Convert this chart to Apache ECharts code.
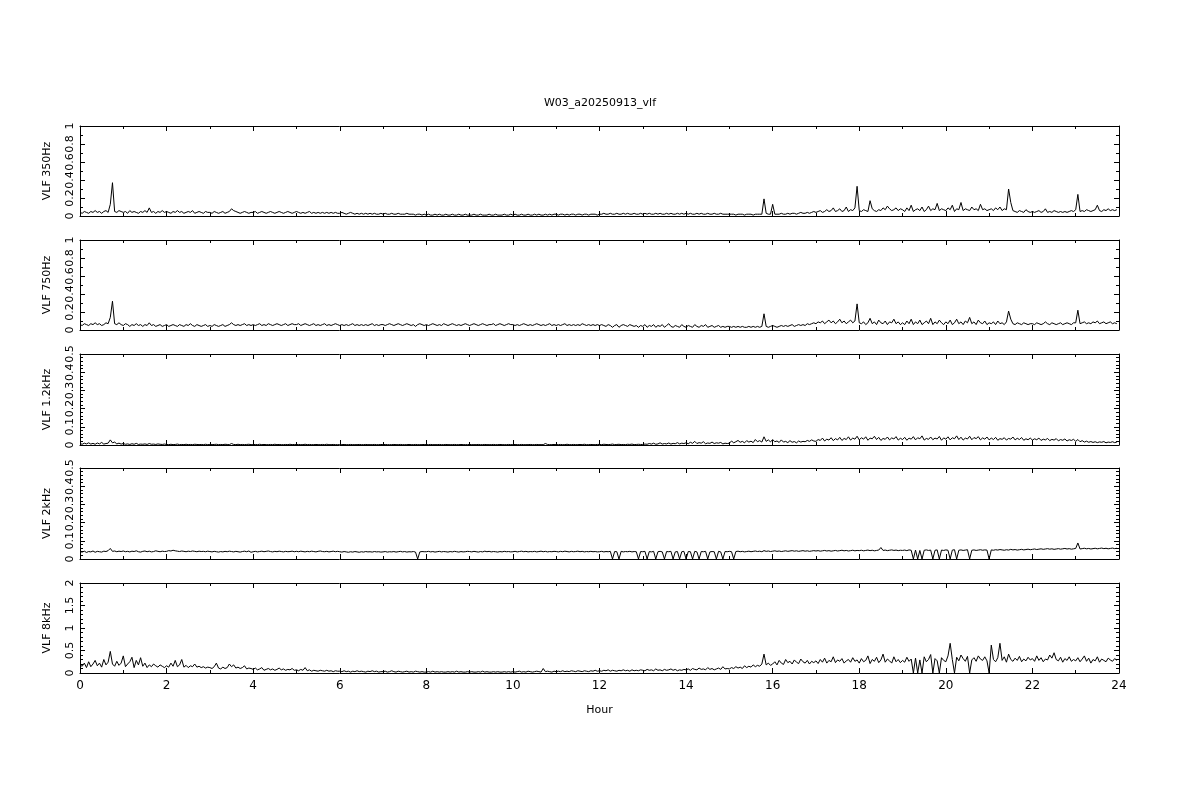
<!DOCTYPE html>
<html><head><meta charset="utf-8">
<script src="https://cdn.jsdelivr.net/npm/echarts@6/dist/echarts.min.js"></script>
<style>html,body{margin:0;padding:0;background:#fff}#c{width:1200px;height:800px}</style>
</head><body><div id="c"></div>
<script>
const TITLE = 'W03_a20250913_vlf';
const PANEL_NAMES = ['VLF 350Hz', 'VLF 750Hz', 'VLF 1.2kHz', 'VLF 2kHz', 'VLF 8kHz'];
const X_NAME = 'Hour';
const X_MIN = 0, X_MAX = 24, X_STEP = 2;
const Y_MAX = [1, 1, 0.5, 0.5, 2];
const Y_STEP = [0.2, 0.2, 0.1, 0.1, 0.5];
const Y_MINOR = [2, 2, 5, 5, 5];
const SAMPLE_HOURS = 0.05; // one sample every 3 minutes

const vlf350 = [
0.04,0.03,0.05,0.04,0.03,0.05,0.04,0.06,0.04,0.05,0.03,0.05,0.06,0.04,0.13,0.37,0.05,0.04,0.06,0.05,
0.04,0.05,0.03,0.06,0.04,0.05,0.04,0.03,0.05,0.04,0.06,0.04,0.09,0.04,0.05,0.03,0.05,0.04,0.06,0.04,
0.05,0.04,0.03,0.05,0.04,0.06,0.04,0.05,0.03,0.04,0.05,0.04,0.06,0.03,0.04,0.05,0.04,0.03,0.05,0.04,
0.04,0.03,0.05,0.04,0.03,0.04,0.05,0.03,0.04,0.05,0.08,0.06,0.05,0.04,0.03,0.04,0.05,0.04,0.03,0.04,
0.04,0.05,0.03,0.04,0.05,0.04,0.03,0.04,0.05,0.04,0.03,0.04,0.05,0.04,0.03,0.04,0.05,0.04,0.03,0.04,
0.05,0.04,0.03,0.04,0.03,0.04,0.05,0.03,0.04,0.03,0.04,0.03,0.04,0.03,0.04,0.03,0.04,0.03,0.04,0.03,
0.03,0.04,0.03,0.02,0.03,0.04,0.03,0.02,0.03,0.02,0.03,0.02,0.03,0.02,0.03,0.02,0.03,0.02,0.02,0.03,
0.02,0.03,0.02,0.02,0.03,0.02,0.02,0.03,0.02,0.02,0.02,0.03,0.02,0.02,0.02,0.01,0.02,0.02,0.01,0.02,
0.01,0.02,0.01,0.01,0.02,0.01,0.02,0.01,0.01,0.02,0.01,0.01,0.02,0.01,0.01,0.02,0.01,0.01,0.02,0.01,
0.01,0.01,0.02,0.01,0.01,0.02,0.01,0.01,0.01,0.02,0.01,0.01,0.02,0.01,0.01,0.01,0.02,0.01,0.01,0.02,
0.01,0.02,0.01,0.01,0.02,0.01,0.01,0.02,0.01,0.01,0.02,0.01,0.02,0.01,0.01,0.02,0.01,0.02,0.01,0.02,
0.02,0.01,0.02,0.02,0.01,0.02,0.01,0.02,0.02,0.01,0.02,0.02,0.01,0.02,0.02,0.01,0.02,0.02,0.02,0.01,
0.02,0.02,0.03,0.02,0.02,0.03,0.02,0.02,0.03,0.02,0.02,0.03,0.02,0.03,0.02,0.02,0.03,0.02,0.02,0.03,
0.02,0.03,0.02,0.03,0.02,0.02,0.03,0.02,0.03,0.02,0.02,0.03,0.02,0.03,0.02,0.02,0.03,0.02,0.03,0.02,
0.03,0.02,0.03,0.02,0.02,0.03,0.02,0.03,0.02,0.02,0.03,0.02,0.02,0.03,0.02,0.02,0.03,0.02,0.02,0.02,
0.02,0.02,0.02,0.01,0.02,0.02,0.02,0.01,0.02,0.02,0.02,0.01,0.02,0.02,0.02,0.02,0.19,0.03,0.02,0.02,
0.13,0.02,0.02,0.02,0.03,0.02,0.02,0.03,0.02,0.03,0.03,0.02,0.03,0.04,0.03,0.03,0.04,0.03,0.04,0.05,
0.04,0.05,0.06,0.04,0.05,0.07,0.05,0.06,0.09,0.05,0.06,0.08,0.05,0.06,0.10,0.05,0.07,0.06,0.09,0.33,
0.06,0.05,0.07,0.06,0.05,0.17,0.08,0.06,0.05,0.07,0.06,0.09,0.07,0.11,0.08,0.06,0.07,0.09,0.06,0.08,
0.07,0.05,0.09,0.06,0.12,0.05,0.07,0.08,0.06,0.10,0.05,0.07,0.11,0.06,0.08,0.07,0.14,0.06,0.08,0.07,
0.06,0.09,0.07,0.12,0.05,0.08,0.07,0.15,0.06,0.08,0.07,0.06,0.10,0.07,0.08,0.06,0.13,0.07,0.08,0.06,
0.07,0.08,0.06,0.09,0.07,0.10,0.06,0.08,0.07,0.30,0.15,0.06,0.05,0.04,0.06,0.05,0.04,0.07,0.05,0.04,
0.05,0.04,0.05,0.06,0.04,0.05,0.08,0.04,0.05,0.04,0.06,0.05,0.04,0.05,0.04,0.05,0.04,0.05,0.06,0.05,
0.07,0.24,0.05,0.06,0.05,0.07,0.06,0.05,0.06,0.07,0.12,0.06,0.05,0.07,0.06,0.08,0.06,0.07,0.06,0.07
];

const vlf750 = [
0.06,0.05,0.07,0.06,0.05,0.07,0.06,0.08,0.06,0.07,0.05,0.06,0.08,0.07,0.14,0.32,0.07,0.06,0.08,0.06,
0.05,0.07,0.06,0.04,0.06,0.05,0.07,0.05,0.06,0.04,0.06,0.05,0.08,0.05,0.06,0.04,0.05,0.06,0.04,0.05,
0.06,0.04,0.05,0.06,0.05,0.04,0.06,0.05,0.04,0.06,0.05,0.07,0.05,0.04,0.06,0.05,0.04,0.05,0.06,0.04,
0.05,0.04,0.06,0.05,0.04,0.05,0.06,0.04,0.05,0.06,0.08,0.06,0.05,0.06,0.05,0.06,0.07,0.05,0.06,0.05,
0.06,0.05,0.06,0.07,0.05,0.06,0.05,0.07,0.06,0.05,0.06,0.07,0.06,0.05,0.06,0.07,0.05,0.06,0.07,0.06,
0.06,0.07,0.05,0.06,0.07,0.06,0.05,0.06,0.07,0.05,0.06,0.05,0.06,0.07,0.05,0.06,0.05,0.06,0.07,0.06,
0.05,0.06,0.05,0.06,0.05,0.06,0.07,0.05,0.06,0.05,0.06,0.05,0.06,0.05,0.06,0.07,0.05,0.06,0.05,0.06,
0.06,0.05,0.06,0.07,0.06,0.05,0.06,0.07,0.06,0.05,0.06,0.07,0.06,0.05,0.06,0.04,0.06,0.07,0.06,0.05,
0.06,0.05,0.06,0.07,0.06,0.05,0.06,0.05,0.07,0.06,0.05,0.06,0.07,0.06,0.05,0.06,0.05,0.06,0.07,0.06,
0.05,0.06,0.07,0.06,0.05,0.06,0.07,0.06,0.05,0.06,0.06,0.07,0.05,0.06,0.07,0.06,0.05,0.06,0.07,0.06,
0.06,0.05,0.06,0.05,0.06,0.07,0.06,0.05,0.06,0.05,0.06,0.07,0.06,0.05,0.06,0.05,0.06,0.07,0.05,0.06,
0.05,0.06,0.05,0.06,0.07,0.05,0.06,0.05,0.06,0.05,0.06,0.05,0.07,0.06,0.05,0.06,0.05,0.06,0.05,0.06,
0.05,0.06,0.05,0.04,0.06,0.05,0.03,0.05,0.06,0.03,0.05,0.06,0.05,0.04,0.06,0.05,0.04,0.05,0.03,0.05,
0.04,0.06,0.03,0.05,0.04,0.06,0.03,0.05,0.04,0.06,0.03,0.05,0.07,0.04,0.03,0.05,0.04,0.03,0.06,0.04,
0.03,0.05,0.04,0.03,0.06,0.04,0.03,0.05,0.04,0.06,0.03,0.04,0.05,0.03,0.04,0.05,0.03,0.04,0.03,0.04,
0.04,0.03,0.04,0.03,0.04,0.03,0.04,0.03,0.03,0.04,0.03,0.04,0.03,0.04,0.03,0.04,0.18,0.04,0.03,0.04,
0.05,0.04,0.03,0.04,0.05,0.04,0.05,0.04,0.05,0.06,0.04,0.05,0.06,0.05,0.06,0.05,0.07,0.06,0.07,0.08,
0.07,0.09,0.08,0.10,0.07,0.09,0.11,0.08,0.10,0.07,0.09,0.12,0.08,0.10,0.07,0.09,0.11,0.08,0.10,0.29,
0.08,0.07,0.09,0.06,0.08,0.13,0.07,0.09,0.06,0.11,0.08,0.07,0.10,0.06,0.09,0.08,0.12,0.07,0.09,0.06,
0.08,0.06,0.10,0.07,0.12,0.06,0.09,0.07,0.11,0.06,0.08,0.10,0.07,0.13,0.06,0.09,0.07,0.11,0.08,0.06,
0.09,0.07,0.11,0.06,0.08,0.12,0.07,0.09,0.06,0.10,0.08,0.14,0.07,0.09,0.06,0.11,0.08,0.07,0.10,0.06,
0.08,0.07,0.09,0.06,0.10,0.07,0.08,0.06,0.09,0.21,0.12,0.07,0.06,0.08,0.07,0.06,0.08,0.07,0.06,0.07,
0.07,0.06,0.08,0.07,0.06,0.07,0.09,0.07,0.06,0.08,0.07,0.06,0.07,0.08,0.06,0.07,0.08,0.07,0.06,0.08,
0.08,0.22,0.07,0.08,0.09,0.07,0.08,0.07,0.09,0.08,0.10,0.07,0.08,0.09,0.07,0.08,0.09,0.07,0.08,0.07
];

const vlf1200 = [
0.008,0.004,0.010,0.006,0.012,0.005,0.009,0.004,0.011,0.006,0.014,0.005,0.008,0.010,0.028,0.012,0.016,0.006,0.010,0.005,
0.008,0.004,0.006,0.003,0.007,0.004,0.009,0.003,0.005,0.004,0.006,0.003,0.008,0.004,0.005,0.003,0.006,0.004,0.003,0.005,
0.003,0.002,0.004,0.002,0.003,0.005,0.002,0.003,0.002,0.004,0.002,0.003,0.002,0.004,0.003,0.002,0.003,0.002,0.004,0.002,
0.003,0.002,0.003,0.004,0.002,0.003,0.002,0.004,0.003,0.002,0.008,0.003,0.002,0.004,0.002,0.003,0.002,0.003,0.004,0.002,
0.002,0.003,0.002,0.004,0.002,0.003,0.002,0.002,0.003,0.002,0.004,0.002,0.003,0.002,0.002,0.003,0.002,0.004,0.002,0.003,
0.002,0.003,0.002,0.002,0.004,0.002,0.003,0.002,0.002,0.003,0.002,0.002,0.003,0.002,0.004,0.002,0.002,0.003,0.002,0.002,
0.002,0.002,0.003,0.002,0.002,0.003,0.002,0.002,0.002,0.003,0.002,0.002,0.003,0.002,0.002,0.002,0.003,0.002,0.002,0.003,
0.002,0.003,0.002,0.002,0.002,0.003,0.002,0.002,0.003,0.002,0.002,0.002,0.003,0.002,0.002,0.003,0.002,0.002,0.002,0.003,
0.002,0.002,0.003,0.002,0.002,0.002,0.003,0.002,0.002,0.003,0.002,0.002,0.002,0.003,0.002,0.002,0.003,0.002,0.002,0.002,
0.003,0.002,0.002,0.002,0.003,0.002,0.002,0.003,0.002,0.002,0.002,0.003,0.002,0.002,0.003,0.002,0.002,0.002,0.003,0.002,
0.002,0.003,0.002,0.002,0.003,0.002,0.002,0.002,0.003,0.002,0.002,0.003,0.002,0.002,0.002,0.008,0.003,0.002,0.002,0.003,
0.002,0.002,0.003,0.002,0.002,0.004,0.002,0.002,0.003,0.002,0.002,0.003,0.002,0.004,0.002,0.002,0.003,0.002,0.002,0.003,
0.003,0.002,0.004,0.003,0.002,0.003,0.005,0.002,0.003,0.004,0.002,0.003,0.002,0.004,0.003,0.005,0.002,0.003,0.004,0.003,
0.003,0.005,0.004,0.008,0.005,0.010,0.004,0.006,0.012,0.005,0.008,0.006,0.011,0.005,0.009,0.007,0.013,0.006,0.010,0.008,
0.012,0.007,0.015,0.009,0.020,0.008,0.013,0.010,0.018,0.007,0.011,0.009,0.016,0.008,0.012,0.010,0.014,0.006,0.010,0.008,
0.010,0.022,0.012,0.018,0.025,0.015,0.020,0.012,0.024,0.016,0.021,0.013,0.030,0.018,0.024,0.016,0.045,0.020,0.028,0.017,
0.030,0.018,0.022,0.014,0.028,0.016,0.020,0.013,0.024,0.015,0.019,0.012,0.022,0.016,0.020,0.018,0.025,0.020,0.028,0.022,
0.020,0.030,0.025,0.038,0.022,0.032,0.027,0.040,0.024,0.035,0.028,0.042,0.025,0.036,0.030,0.045,0.027,0.038,0.032,0.048,
0.028,0.040,0.032,0.045,0.026,0.038,0.034,0.048,0.030,0.042,0.025,0.036,0.031,0.044,0.028,0.039,0.033,0.046,0.027,0.037,
0.030,0.042,0.026,0.038,0.032,0.046,0.028,0.040,0.034,0.050,0.027,0.036,0.031,0.044,0.029,0.038,0.033,0.047,0.026,0.039,
0.032,0.045,0.028,0.040,0.034,0.050,0.030,0.043,0.027,0.038,0.033,0.048,0.029,0.041,0.035,0.046,0.028,0.039,0.032,0.044,
0.028,0.038,0.030,0.042,0.026,0.035,0.031,0.040,0.027,0.036,0.032,0.044,0.028,0.037,0.030,0.041,0.026,0.034,0.029,0.038,
0.027,0.034,0.029,0.038,0.025,0.032,0.028,0.036,0.024,0.031,0.027,0.035,0.023,0.030,0.026,0.033,0.022,0.029,0.025,0.031,
0.020,0.030,0.018,0.024,0.016,0.021,0.015,0.019,0.014,0.018,0.013,0.017,0.015,0.019,0.012,0.016,0.014,0.018,0.013,0.016
];

const vlf2000 = [
0.040,0.038,0.043,0.036,0.041,0.039,0.044,0.037,0.042,0.040,0.038,0.043,0.041,0.046,0.058,0.042,0.044,0.040,0.043,0.041,
0.044,0.040,0.042,0.039,0.043,0.041,0.045,0.040,0.038,0.042,0.044,0.040,0.043,0.039,0.041,0.045,0.042,0.040,0.043,0.041,
0.042,0.046,0.044,0.048,0.045,0.043,0.041,0.044,0.042,0.040,0.043,0.041,0.044,0.042,0.040,0.043,0.041,0.042,0.040,0.043,
0.041,0.039,0.042,0.040,0.038,0.041,0.039,0.042,0.040,0.043,0.041,0.039,0.042,0.040,0.038,0.041,0.043,0.040,0.044,0.037,
0.040,0.042,0.039,0.041,0.043,0.040,0.042,0.044,0.041,0.039,0.042,0.040,0.043,0.041,0.039,0.042,0.040,0.041,0.043,0.040,
0.042,0.040,0.043,0.041,0.039,0.042,0.040,0.043,0.041,0.039,0.042,0.044,0.041,0.040,0.042,0.039,0.041,0.043,0.040,0.042,
0.040,0.038,0.041,0.039,0.037,0.040,0.038,0.041,0.039,0.037,0.040,0.038,0.041,0.039,0.040,0.038,0.041,0.039,0.040,0.038,
0.039,0.041,0.038,0.040,0.039,0.041,0.038,0.040,0.042,0.039,0.041,0.038,0.040,0.039,0.041,0.038,0.000,0.039,0.041,0.040,
0.040,0.042,0.039,0.041,0.038,0.040,0.042,0.039,0.041,0.040,0.038,0.041,0.039,0.042,0.040,0.038,0.041,0.039,0.040,0.042,
0.041,0.039,0.042,0.040,0.038,0.041,0.039,0.043,0.040,0.042,0.039,0.041,0.040,0.038,0.041,0.039,0.042,0.040,0.041,0.039,
0.040,0.042,0.039,0.041,0.043,0.040,0.042,0.039,0.041,0.040,0.042,0.039,0.041,0.043,0.040,0.042,0.039,0.041,0.040,0.042,
0.041,0.039,0.042,0.040,0.043,0.041,0.039,0.042,0.040,0.041,0.043,0.040,0.042,0.039,0.041,0.040,0.042,0.040,0.041,0.039,
0.040,0.042,0.039,0.041,0.040,0.042,0.000,0.041,0.040,0.000,0.042,0.039,0.041,0.040,0.042,0.039,0.041,0.040,0.000,0.041,
0.040,0.042,0.000,0.041,0.039,0.042,0.000,0.040,0.042,0.039,0.000,0.041,0.040,0.042,0.000,0.039,0.041,0.000,0.040,0.042,
0.000,0.041,0.040,0.000,0.042,0.039,0.000,0.041,0.040,0.042,0.000,0.039,0.041,0.040,0.000,0.042,0.039,0.000,0.041,0.040,
0.042,0.040,0.000,0.041,0.043,0.040,0.042,0.039,0.041,0.043,0.040,0.042,0.044,0.041,0.043,0.040,0.046,0.042,0.044,0.041,
0.043,0.045,0.042,0.044,0.041,0.043,0.045,0.042,0.044,0.046,0.043,0.045,0.042,0.044,0.046,0.043,0.045,0.042,0.044,0.046,
0.044,0.046,0.043,0.045,0.047,0.044,0.046,0.043,0.045,0.047,0.044,0.046,0.048,0.045,0.047,0.044,0.046,0.048,0.045,0.047,
0.046,0.048,0.045,0.047,0.049,0.046,0.048,0.045,0.047,0.049,0.063,0.047,0.049,0.046,0.048,0.050,0.047,0.049,0.046,0.048,
0.047,0.049,0.046,0.050,0.048,0.000,0.049,0.000,0.047,0.000,0.048,0.050,0.047,0.049,0.000,0.048,0.050,0.000,0.049,0.047,
0.050,0.048,0.000,0.049,0.051,0.000,0.048,0.050,0.047,0.049,0.051,0.000,0.048,0.050,0.047,0.049,0.051,0.048,0.050,0.049,
0.000,0.050,0.048,0.051,0.049,0.052,0.050,0.048,0.051,0.049,0.053,0.050,0.052,0.049,0.051,0.053,0.050,0.052,0.054,0.051,
0.053,0.055,0.052,0.054,0.056,0.053,0.055,0.057,0.054,0.056,0.053,0.055,0.057,0.054,0.056,0.058,0.055,0.057,0.054,0.056,
0.058,0.088,0.055,0.057,0.059,0.056,0.058,0.055,0.057,0.059,0.056,0.058,0.060,0.057,0.059,0.056,0.058,0.060,0.057,0.059
];

const vlf8000 = [
0.18,0.15,0.22,0.12,0.25,0.14,0.20,0.28,0.16,0.22,0.13,0.30,0.18,0.24,0.48,0.20,0.15,0.26,0.17,0.22,
0.38,0.14,0.20,0.25,0.35,0.12,0.28,0.18,0.34,0.15,0.22,0.12,0.18,0.14,0.20,0.16,0.13,0.18,0.15,0.12,
0.16,0.13,0.22,0.15,0.28,0.14,0.18,0.30,0.13,0.17,0.12,0.16,0.14,0.20,0.13,0.15,0.12,0.14,0.11,0.13,
0.12,0.10,0.14,0.22,0.11,0.09,0.13,0.10,0.12,0.20,0.14,0.18,0.11,0.13,0.10,0.12,0.16,0.09,0.11,0.10,
0.08,0.11,0.07,0.09,0.12,0.06,0.08,0.10,0.07,0.09,0.06,0.08,0.11,0.07,0.09,0.06,0.08,0.07,0.10,0.06,
0.07,0.05,0.08,0.06,0.12,0.05,0.07,0.04,0.06,0.05,0.04,0.06,0.05,0.04,0.06,0.04,0.05,0.03,0.05,0.04,
0.04,0.03,0.05,0.03,0.04,0.02,0.04,0.03,0.05,0.03,0.04,0.03,0.02,0.04,0.03,0.05,0.03,0.04,0.02,0.03,
0.03,0.04,0.02,0.03,0.05,0.03,0.02,0.04,0.03,0.02,0.03,0.04,0.02,0.03,0.02,0.04,0.03,0.02,0.03,0.02,
0.02,0.03,0.02,0.04,0.02,0.03,0.02,0.03,0.02,0.02,0.03,0.02,0.03,0.02,0.04,0.02,0.03,0.02,0.02,0.03,
0.02,0.03,0.02,0.02,0.03,0.02,0.04,0.02,0.03,0.02,0.02,0.03,0.02,0.03,0.02,0.02,0.03,0.02,0.03,0.02,
0.03,0.02,0.03,0.04,0.02,0.03,0.02,0.04,0.03,0.02,0.03,0.04,0.03,0.02,0.10,0.03,0.04,0.03,0.02,0.04,
0.03,0.04,0.03,0.05,0.03,0.04,0.03,0.05,0.04,0.03,0.05,0.04,0.03,0.05,0.04,0.03,0.05,0.04,0.06,0.04,
0.05,0.04,0.06,0.05,0.07,0.04,0.06,0.05,0.04,0.06,0.05,0.07,0.05,0.06,0.04,0.07,0.05,0.06,0.05,0.07,
0.06,0.05,0.08,0.06,0.07,0.05,0.09,0.06,0.07,0.05,0.08,0.06,0.07,0.09,0.06,0.08,0.05,0.07,0.06,0.08,
0.07,0.09,0.06,0.10,0.08,0.07,0.11,0.08,0.09,0.07,0.12,0.08,0.10,0.07,0.09,0.11,0.08,0.14,0.09,0.10,
0.09,0.12,0.10,0.14,0.11,0.13,0.10,0.16,0.12,0.15,0.13,0.18,0.14,0.17,0.15,0.20,0.42,0.18,0.22,0.17,
0.20,0.25,0.18,0.28,0.22,0.19,0.30,0.23,0.26,0.20,0.29,0.24,0.21,0.31,0.25,0.22,0.28,0.20,0.26,0.23,
0.27,0.21,0.30,0.24,0.33,0.22,0.28,0.25,0.36,0.23,0.29,0.26,0.32,0.22,0.27,0.30,0.24,0.34,0.26,0.29,
0.22,0.32,0.25,0.28,0.38,0.21,0.30,0.26,0.35,0.23,0.29,0.42,0.24,0.31,0.27,0.22,0.36,0.25,0.30,0.23,
0.28,0.24,0.35,0.26,0.31,0.00,0.33,0.00,0.29,0.00,0.36,0.25,0.30,0.41,0.00,0.32,0.27,0.00,0.34,0.28,
0.25,0.38,0.66,0.30,0.00,0.35,0.27,0.40,0.32,0.26,0.37,0.00,0.29,0.34,0.26,0.38,0.31,0.28,0.36,0.27,
0.00,0.62,0.30,0.25,0.34,0.66,0.28,0.36,0.24,0.42,0.30,0.26,0.33,0.28,0.37,0.25,0.31,0.27,0.35,0.29,
0.32,0.26,0.38,0.28,0.34,0.25,0.31,0.29,0.40,0.33,0.45,0.30,0.27,0.35,0.24,0.32,0.28,0.36,0.26,0.30,
0.27,0.34,0.25,0.31,0.38,0.26,0.33,0.22,0.30,0.27,0.36,0.24,0.31,0.28,0.25,0.33,0.29,0.26,0.32,0.28
];

const SERIES = [vlf350, vlf750, vlf1200, vlf2000, vlf8000];

// ---- layout ----
const FONT = 'DejaVu Sans';
const GRID_TOPS = [126, 240, 354, 468, 583];
const GRID_H = [90, 90, 91, 91, 90];
const LEFT = 80, RIGHT = 81;

const grids = [], xAxes = [], yAxes = [], series = [];
const lineStyle = { color: '#000', width: 1 };
SERIES.forEach((vals, i) => {
  grids.push({ left: LEFT, right: RIGHT, top: GRID_TOPS[i], height: GRID_H[i], containLabel: false });
  const isLast = i === SERIES.length - 1;
  ['bottom', 'top'].forEach(pos => {
    const showLab = isLast && pos === 'bottom';
    xAxes.push({
      type: 'value', gridIndex: i, position: pos, min: X_MIN, max: X_MAX, interval: X_STEP,
      axisLine: { show: true, onZero: false, lineStyle },
      axisTick: { show: true, inside: true, length: 5, lineStyle },
      minorTick: { show: true, splitNumber: 2, length: 3, lineStyle },
      splitLine: { show: false },
      axisLabel: { show: showLab, color: '#000', fontSize: 12, fontFamily: FONT, margin: 7 },
      name: showLab ? X_NAME : '', nameLocation: 'middle', nameGap: 32,
      nameTextStyle: { color: '#000', fontSize: 11, fontFamily: FONT }
    });
  });
  ['left', 'right'].forEach(pos => {
    const showLab = pos === 'left';
    yAxes.push({
      type: 'value', gridIndex: i, position: pos, min: 0, max: Y_MAX[i], interval: Y_STEP[i],
      axisLine: { show: true, onZero: false, lineStyle },
      axisTick: { show: true, inside: true, length: 5, lineStyle },
      minorTick: { show: true, splitNumber: Y_MINOR[i], length: 3, lineStyle },
      splitLine: { show: false },
      axisLabel: { show: showLab, rotate: 90, align: 'center', verticalAlign: 'middle', margin: 10,
        color: '#000', fontSize: 11, fontFamily: FONT, showMinLabel: true, showMaxLabel: true },
      name: showLab ? PANEL_NAMES[i] : '', nameLocation: 'middle', nameRotate: 90, nameGap: 27,
      nameTextStyle: { color: '#000', fontSize: 11, fontFamily: FONT }
    });
  });
  series.push({
    type: 'line', xAxisIndex: 2 * i, yAxisIndex: 2 * i,
    data: vals.map((v, k) => [k * SAMPLE_HOURS, v]),
    showSymbol: false, symbol: 'none', lineStyle, sampling: null, clip: true, animation: false
  });
});

const chart = echarts.init(document.getElementById('c'), null, { renderer: 'canvas' });
chart.setOption({
  backgroundColor: '#fff',
  animation: false,
  title: { text: TITLE, left: 'center', top: 93,
    textStyle: { color: '#000', fontSize: 11, fontWeight: 'normal', fontFamily: FONT } },
  grid: grids, xAxis: xAxes, yAxis: yAxes, series
});
</script></body></html>
